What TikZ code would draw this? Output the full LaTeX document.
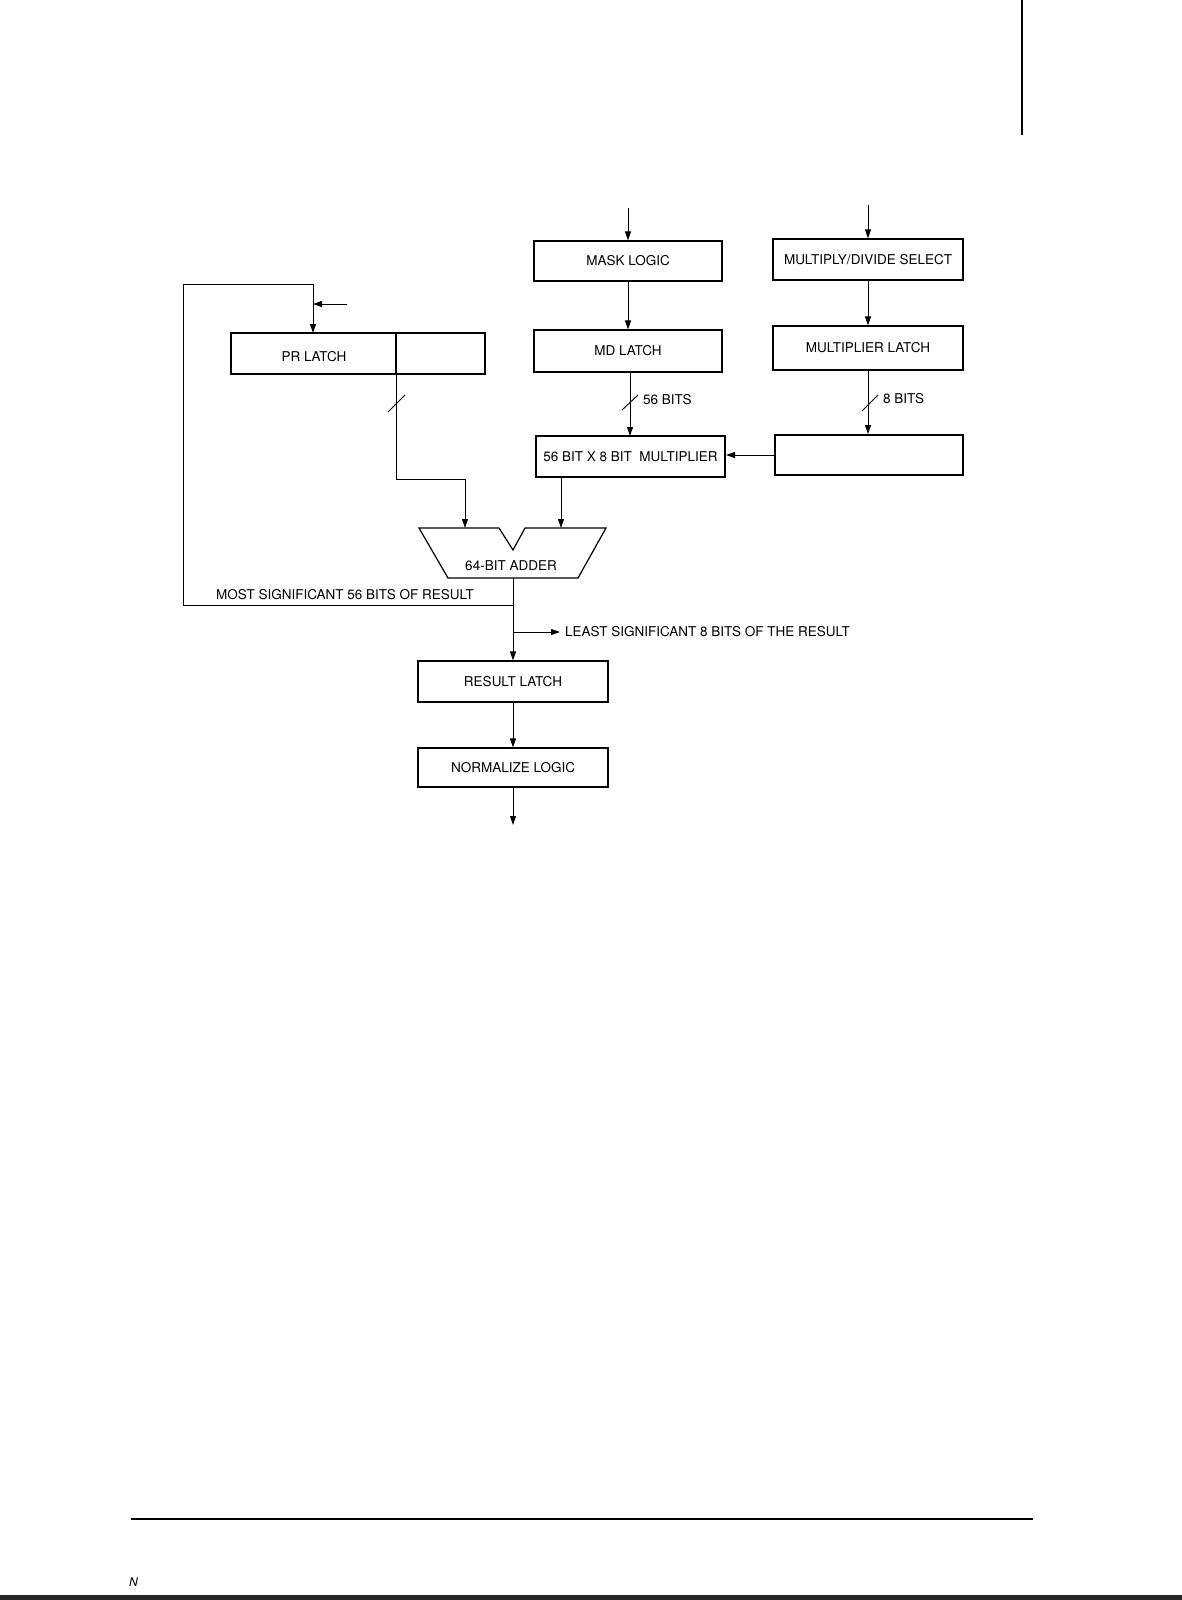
\documentclass[tikz,border=0pt]{standalone}
\usepackage{fontspec}
\setmainfont{TeX Gyre Heros}
\usetikzlibrary{arrows.meta}
\newcommand\dfont{\fontsize{13.5}{16}\selectfont}
\begin{document}
\begin{tikzpicture}[x=1pt,y=-1pt,
  blk/.style={draw, line width=1.2pt, inner sep=0pt, font=\dfont},
  heavy/.style={blk, line width=2pt},
  wire/.style={line width=1pt},
  arr/.style={wire, -{Triangle[length=9pt,width=6pt]}},
  lbl/.style={font=\dfont, inner sep=0pt},
  tick/.style={line width=0.9pt}]
\useasboundingbox (0,0) rectangle (1182,1600);
\fill[white] (0,0) rectangle (1182,1600);

% boxes
\node[blk, minimum width=188pt, minimum height=40pt] (mask) at (628,261) {MASK LOGIC};
\node[blk, minimum width=188pt, minimum height=42pt] (mdl) at (628,351) {MD LATCH};
\node[blk, minimum width=190pt, minimum height=41pt] (muldiv) at (868,259.5) {MULTIPLY/DIVIDE SELECT};
\node[blk, minimum width=190pt, minimum height=44pt] (mulatch) at (868,348) {MULTIPLIER LATCH};
\node[heavy, minimum width=188pt, minimum height=40pt] (empty) at (869,455) {};
\node[heavy, minimum width=189pt, minimum height=41pt] (mult) at (630.5,456.5) {56 BIT X 8 BIT\ \ MULTIPLIER};
\node[blk, minimum width=254pt, minimum height=41pt] (prl) at (358,353.5) {};
\node[lbl] (prltxt) at (314,357) {PR LATCH};
\draw[line width=1.2pt] (396,333) -- (396,374);
\node[blk, minimum width=190pt, minimum height=41pt] (res) at (513,681.5) {RESULT LATCH};
\node[blk, minimum width=190pt, minimum height=39pt] (norm) at (513,767.5) {NORMALIZE LOGIC};

% adder
\draw[line width=1.2pt] (419,528) -- (499,528) -- (513,550) -- (525,528) -- (606,528)
  -- (578,578) -- (448,578) -- cycle;
\node[lbl] (adder) at (511,566) {64-BIT ADDER};
\coordinate (addA) at (465,528);
\coordinate (addB) at (561,528);
\coordinate (addO) at (513,578);

% inputs at top
\coordinate (inmask) at (628,208);
\coordinate (inmd) at (868,205);
\draw[arr] (inmask) -- (mask.north);
\draw[arr] (inmd) -- (muldiv.north);
\draw[arr] (mask.south) -- (mdl.north);
\draw[arr] (muldiv.south) -- (mulatch.south |- mulatch.north);

% 56 bits
\draw[arr] (mdl.south -| 630,0) -- (630,436);
\draw[tick] (622,410) -- (638,395);
\node[lbl, anchor=west] (b56) at (643,400) {56 BITS};

% 8 bits
\draw[arr] (mulatch.south) -- (mulatch.south |- empty.north);
\draw[tick] (862,411) -- (878,395);
\node[lbl, anchor=west] (b8) at (883,399) {8 BITS};

% empty box to multiplier
\draw[arr] (empty.west) -- (mult.east |- empty.west);

% PR latch input from right
\coordinate (prin) at (347,304);
\coordinate (prj) at (313,304);
\draw[arr] (prin) -- (prj);

% PR latch output to adder
\coordinate (pro) at (396,374);
\draw[arr] (pro) -- (396,479) -- (465,479) -- (addA);
\draw[tick] (388,412) -- (405,395);

% multiplier to adder
\draw[arr] (mult.south -| addB) -- (addB);

% adder output
\draw[arr] (addO) -- (res.north);
\coordinate (fb) at (513,605);
\draw[wire] (fb) -- (183,605) -- (183,284) -- (313,284);
\draw[arr] (313,284) -- (313,333);
\node[lbl, anchor=west] (msb) at (216,595) {MOST SIGNIFICANT 56 BITS OF RESULT};
\coordinate (ls) at (513,632);
\draw[arr] (ls) -- (560,632);
\node[lbl, anchor=west] (lsb) at (565,632) {LEAST SIGNIFICANT 8 BITS OF THE RESULT};

\draw[arr] (res.south) -- (norm.north);
\coordinate (out) at (513,825);
\draw[arr] (norm.south) -- (out);

% page artefacts
\draw[line width=1.3pt] (1022,0) -- (1022,108);
\draw[line width=2.2pt] (1022,108) -- (1022,135);
\draw[line width=1.2pt] (131,1519) -- (1033,1519);
\draw[line width=2pt] (131,1519) -- (325,1519);
\fill[black!85] (0,1595) rectangle (1182,1600);
\node[inner sep=0pt, anchor=west, font=\fontsize{12}{14}\selectfont\itshape] (pn) at (129,1582) {N};
\end{tikzpicture}
\end{document}
